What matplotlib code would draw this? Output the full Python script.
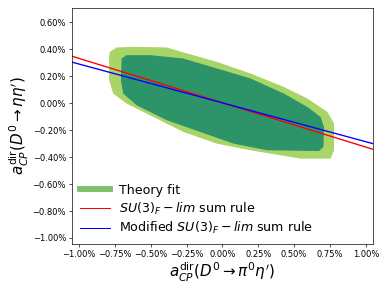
import matplotlib
matplotlib.use("Agg")
import matplotlib.pyplot as plt
from matplotlib.lines import Line2D
from matplotlib.ticker import PercentFormatter, MultipleLocator

# values in percent
# outer (light) region of the theory fit
outer_x = [-0.786, -0.739, -0.623, -0.389, -0.249, -0.039, 0.195, 0.428, 0.592,
           0.732, 0.778, 0.778, 0.755, 0.545, 0.195, -0.039, -0.273, -0.506,
           -0.669, -0.763, -0.791, -0.791]
outer_y = [0.381, 0.414, 0.419, 0.414, 0.370, 0.307, 0.221, 0.121, 0.035,
           -0.065, -0.151, -0.349, -0.411, -0.411, -0.349, -0.300, -0.213, -0.089,
           -0.002, 0.072, 0.171, 0.344]

# inner (dark) region of the theory fit
inner_x = [-0.704, -0.669, -0.506, -0.273, -0.039, 0.195, 0.428, 0.592, 0.685,
           0.708, 0.704, 0.673, 0.312, 0.078, -0.156, -0.389, -0.599, -0.693, -0.709]
inner_y = [0.332, 0.357, 0.357, 0.332, 0.258, 0.184, 0.072, -0.028, -0.102,
           -0.176, -0.325, -0.355, -0.349, -0.300, -0.213, -0.126, -0.015, 0.072, 0.171]

# sum rule lines
rule_x = [-1.05, 1.05]
su3_y = [0.349, -0.342]
modified_y = [0.305, -0.300]

fig = plt.figure(figsize=(6.4, 4.8), dpi=60.625)
ax = fig.add_axes([0.1856, 0.1615, 0.7757, 0.811])

ax.fill(outer_x, outer_y, color="#a8d468", lw=0)
ax.fill(inner_x, inner_y, color="#2c9468", lw=0)
ax.plot(rule_x, su3_y, color="red", lw=1.6)
ax.plot(rule_x, modified_y, color="blue", lw=1.6)

ax.set_xlim(-1.05, 1.05)
ax.set_ylim(-1.045, 0.707)
ax.xaxis.set_major_locator(MultipleLocator(0.25))
ax.yaxis.set_major_locator(MultipleLocator(0.2))
ax.xaxis.set_major_formatter(PercentFormatter(xmax=100, decimals=2))
ax.yaxis.set_major_formatter(PercentFormatter(xmax=100, decimals=2))
ax.tick_params(labelsize=10)

ax.set_xlabel(r"$a_{CP}^{\rm dir}(D^0\to\pi^0\eta')$", fontsize=18, labelpad=2)
ax.set_ylabel(r"$a_{CP}^{\rm dir}(D^0\to\eta\eta')$", fontsize=18, labelpad=2)

handles = [
    Line2D([], [], color="#80c068", lw=7),
    Line2D([], [], color="red", lw=1.2),
    Line2D([], [], color="blue", lw=1.2),
]
labels = ["Theory fit", r"$SU(3)_F-lim$ sum rule", r"Modified $SU(3)_F-lim$ sum rule"]
ax.legend(handles, labels, loc="lower left", frameon=False, fontsize=15,
          handlelength=2.4, handletextpad=0.7, labelspacing=0.3, borderaxespad=0.2)

fig.savefig("out.png", dpi=60.625)
